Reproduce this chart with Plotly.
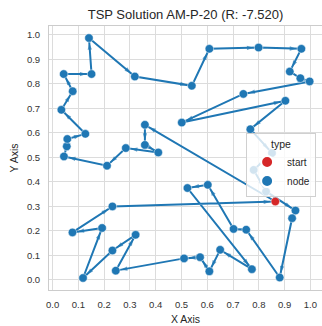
import plotly.graph_objects as go

# Tour order (node coordinates), start node separately
start_x = [0.864]
start_y = [0.320]
node_x = [0.358, 0.358, 0.410, 0.284, 0.211, 0.044, 0.055, 0.057, 0.127, 0.034,
          0.078, 0.043, 0.151, 0.141, 0.319, 0.540, 0.608, 0.799, 0.965, 0.920,
          0.961, 0.997, 0.740, 0.501, 0.903, 0.767, 0.851, 0.780, 0.828, 0.942,
          0.929, 0.881, 0.751, 0.702, 0.602, 0.523, 0.773, 0.650, 0.608, 0.572,
          0.510, 0.245, 0.322, 0.232, 0.118, 0.192, 0.077, 0.232]
node_y = [0.633, 0.551, 0.520, 0.538, 0.466, 0.504, 0.545, 0.575, 0.596, 0.694,
          0.770, 0.840, 0.840, 0.987, 0.830, 0.792, 0.943, 0.948, 0.943, 0.850,
          0.823, 0.810, 0.759, 0.642, 0.731, 0.615, 0.518, 0.449, 0.361, 0.283,
          0.252, 0.010, 0.205, 0.208, 0.388, 0.375, 0.044, 0.123, 0.035, 0.093,
          0.088, 0.038, 0.184, 0.120, 0.008, 0.212, 0.194, 0.300]
tick_vals = [0.0, 0.1, 0.2, 0.3, 0.4, 0.5, 0.6, 0.7, 0.8, 0.9, 1.0]
tick_text = ["0.0", "0.1", "0.2", "0.3", "0.4", "0.5", "0.6", "0.7", "0.8", "0.9", "1.0"]
title_text = "TSP Solution AM-P-20 (R: -7.520)"

BLUE = "#1f77b4"
RED = "#d62728"
FONT = "Liberation Sans, Arial, sans-serif"

path_x = start_x + node_x + start_x
path_y = start_y + node_y + start_y

fig = go.Figure()
fig.add_trace(go.Scatter(x=path_x, y=path_y, mode="lines",
                         line=dict(color=BLUE, width=2), showlegend=False,
                         hoverinfo="skip"))
fig.add_trace(go.Scatter(x=path_x, y=path_y, mode="markers", showlegend=False,
                         hoverinfo="skip",
                         marker=dict(symbol="arrow", angleref="previous",
                                     standoff=5,
                                     size=[0] + [7] * (len(path_x) - 1),
                                     color=BLUE, line=dict(width=0))))
fig.add_trace(go.Scatter(x=node_x, y=node_y, mode="markers", name="node",
                         legendrank=2,
                         marker=dict(size=8.5, color=BLUE,
                                     line=dict(color="white", width=0.5))))
fig.add_trace(go.Scatter(x=start_x, y=start_y, mode="markers", name="start",
                         legendrank=1,
                         marker=dict(size=8.5, color=RED,
                                     line=dict(color="white", width=0.5))))

axis_common = dict(showgrid=True, gridcolor="#dcdcdc", gridwidth=1,
                   zeroline=False, showline=True, mirror=True,
                   linecolor="#cccccc", linewidth=1,
                   tickmode="array", tickvals=tick_vals, ticktext=tick_text,
                   ticks="", ticklabelstandoff=6,
                   tickfont=dict(family=FONT, size=9.5, color="#333333"))

fig.update_layout(
    width=322, height=326,
    margin=dict(l=49, r=0, t=26, b=36),
    paper_bgcolor="white", plot_bgcolor="white",
    title=dict(text=title_text, x=0.5, xref="paper", xanchor="center",
               y=0.955, yanchor="middle",
               font=dict(family=FONT, size=13, color="#262626")),
    xaxis=dict(range=[-0.014, 1.045],
               title=dict(text="X Axis", standoff=6,
                          font=dict(family=FONT, size=10.5, color="#262626")),
               **axis_common),
    yaxis=dict(range=[-0.041, 1.036],
               title=dict(text="Y Axis", standoff=6,
                          font=dict(family=FONT, size=10.5, color="#262626")),
               **axis_common),
    legend=dict(title=dict(text="type", side="top center",
                           font=dict(family=FONT, size=10.5, color="#262626")),
                font=dict(family=FONT, size=10, color="#262626"),
                x=0.722, y=0.595, xanchor="left", yanchor="top",
                bgcolor="rgba(255,255,255,0.8)", bordercolor="#d0d0d0",
                borderwidth=1, tracegroupgap=0, itemsizing="constant"),
    showlegend=True,
)

fig.write_html("out.html")
